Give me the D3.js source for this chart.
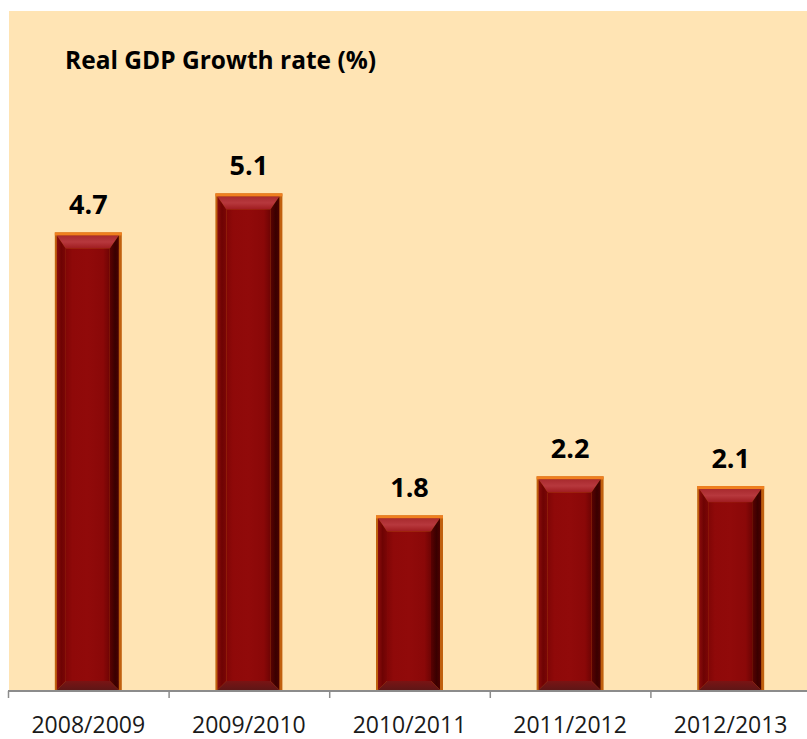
<!DOCTYPE html>
<html>
<head>
<meta charset="utf-8">
<script src="https://cdn.jsdelivr.net/npm/d3@7"></script>
<style>
  html, body { margin: 0; padding: 0; background: #ffffff; }
  svg { display: block; }
</style>
</head>
<body>
<svg id="chart" width="807" height="739"></svg>
<script>
// Fiscal years and real GDP growth (%)
const years = ["2008/2009", "2009/2010", "2010/2011", "2011/2012", "2012/2013"];
const growth = [4.7, 5.1, 1.8, 2.2, 2.1];
const titleText = "Real GDP Growth rate (%)";

const W = 807, H = 739;
const svg = d3.select("#chart");

const plot = { left: 8, right: 811, top: 8, bottom: 691 };

const x = d3.scaleBand()
  .domain(years)
  .range([plot.left, plot.right])
  .paddingInner(0.583)
  .paddingOuter(0.2915);

const y = d3.scaleLinear().domain([0, 7]).range([plot.bottom, plot.top]);

// Panel background
svg.append("rect")
  .attr("x", 9).attr("y", 11)
  .attr("width", W - 9).attr("height", plot.bottom - 11)
  .attr("fill", "#FFE4B4");

// Gradients for bevelled bar faces
const defs = svg.append("defs");
function lin(id, x1, y1, x2, y2, stops) {
  const g = defs.append("linearGradient").attr("id", id)
    .attr("x1", x1).attr("y1", y1).attr("x2", x2).attr("y2", y2);
  stops.forEach(s => g.append("stop").attr("offset", s[0]).attr("stop-color", s[1]));
}
lin("faceG", 0, 0, 1, 0, [[0, "#800606"], [0.15, "#8f0909"], [0.5, "#910a0a"], [0.85, "#8a0808"], [1, "#6e0404"]]);
lin("topG", 0, 0, 0, 1, [[0, "#a82a2e"], [0.5, "#b7383d"], [1, "#a01c20"]]);
lin("leftG", 0, 0, 1, 0, [[0, "#8a0c0c"], [0.5, "#6e0303"], [1, "#7c0606"]]);
lin("rightG", 0, 0, 1, 0, [[0, "#5a0202"], [0.6, "#3a0000"], [1, "#4a0101"]]);
lin("botG", 0, 0, 0, 1, [[0, "#7a1414"], [1, "#5e1616"]]);

const bw = x.bandwidth();
const bevel = 9;

const bars = svg.append("g").selectAll("g.bar")
  .data(years.map((c, i) => ({ c, v: growth[i] })))
  .join("g").attr("class", "bar");

bars.each(function (d) {
  const g = d3.select(this);
  const x0 = x(d.c), x1 = x0 + bw;
  const y0 = y(d.v), y1 = y(0);
  // outer frame
  g.append("rect").attr("x", x0).attr("y", y0).attr("width", bw).attr("height", y1 - y0)
    .attr("fill", "#c0600f");
  g.append("rect").attr("x", x0).attr("y", y0).attr("width", bw).attr("height", 3)
    .attr("fill", "#f08020");
  const ix0 = x0 + 2, ix1 = x1 - 3, iy0 = y0 + 3, iy1 = y1 - 1;
  const tb = bevel + 4;
  const pts = a => a.map(p => p.join(",")).join(" ");
  // top bevel
  g.append("polygon").attr("fill", "url(#topG)")
    .attr("points", pts([[ix0, iy0], [ix1, iy0], [ix1 - bevel, iy0 + tb], [ix0 + bevel, iy0 + tb]]));
  // left bevel
  g.append("polygon").attr("fill", "url(#leftG)")
    .attr("points", pts([[ix0, iy0], [ix0 + bevel, iy0 + tb], [ix0 + bevel, iy1 - bevel], [ix0, iy1]]));
  // right bevel
  g.append("polygon").attr("fill", "url(#rightG)")
    .attr("points", pts([[ix1, iy0], [ix1 - bevel, iy0 + tb], [ix1 - bevel, iy1 - bevel], [ix1, iy1]]));
  // bottom bevel
  g.append("polygon").attr("fill", "url(#botG)")
    .attr("points", pts([[ix0, iy1], [ix0 + bevel, iy1 - bevel], [ix1 - bevel, iy1 - bevel], [ix1, iy1]]));
  // face
  g.append("rect").attr("x", ix0 + bevel).attr("y", iy0 + tb)
    .attr("width", ix1 - ix0 - 2 * bevel).attr("height", (iy1 - bevel) - (iy0 + tb))
    .attr("fill", "url(#faceG)");
});

// Value labels
svg.append("g").selectAll("text")
  .data(years.map((c, i) => ({ c, v: growth[i] })))
  .join("text")
  .attr("x", d => x(d.c) + bw / 2)
  .attr("y", d => y(d.v) - 18)
  .attr("text-anchor", "middle")
  .attr("font-family", "'Open Sans', sans-serif")
  .attr("font-weight", "bold")
  .attr("font-size", 27)
  .attr("fill", "#000")
  .text(d => d.v.toFixed(1));

// Category axis with ticks between categories
const axisG = svg.append("g");
axisG.append("line")
  .attr("x1", plot.left).attr("x2", W).attr("y1", plot.bottom).attr("y2", plot.bottom)
  .attr("stroke", "#8c8c8c").attr("stroke-width", 2);
const step = x.step();
axisG.selectAll("line.tick")
  .data(d3.range(years.length + 1))
  .join("line").attr("class", "tick")
  .attr("x1", i => plot.left + 0.5 + i * step).attr("x2", i => plot.left + 0.5 + i * step)
  .attr("y1", plot.bottom).attr("y2", plot.bottom + 7)
  .attr("stroke", "#8c8c8c").attr("stroke-width", 1.5);
axisG.selectAll("text")
  .data(years)
  .join("text")
  .attr("x", d => x(d) + bw / 2)
  .attr("y", 733)
  .attr("text-anchor", "middle")
  .attr("font-family", "'Open Sans', sans-serif")
  .attr("font-size", 23)
  .attr("fill", "#1a1a1a")
  .text(d => d);

// Title
svg.append("text")
  .attr("x", 65).attr("y", 69)
  .attr("font-family", "'Open Sans', sans-serif")
  .attr("font-weight", "bold")
  .attr("font-size", 24.5)
  .attr("fill", "#000")
  .text(titleText);
</script>
</body>
</html>
